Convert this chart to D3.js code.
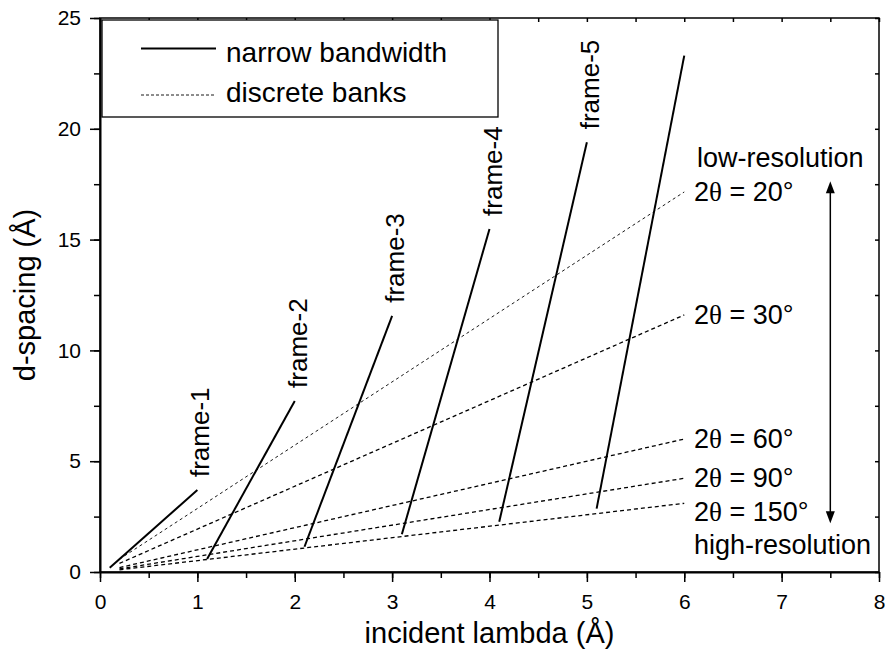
<!DOCTYPE html>
<html>
<head>
<meta charset="utf-8">
<script src="https://cdn.jsdelivr.net/npm/d3@7"></script>
<style>
	body { margin: 0; background: #fff; }
	text { font-family: "Liberation Sans", Arial, sans-serif; fill: #000; }
</style>
</head>
<body>
<div id="chart"></div>
<script>
// narrow bandwidth frames: incident lambda range and d-spacing range
const frameNames = ['frame-1', 'frame-2', 'frame-3', 'frame-4', 'frame-5', ''];
const frameLambda = [[0.1, 1.0], [1.1, 2.0], [2.1, 3.0], [3.1, 4.0], [4.1, 5.0], [5.1, 6.0]];
const frameD = [[0.19, 3.7], [0.59, 7.72], [1.14, 11.56], [1.70, 15.48], [2.27, 19.39], [2.86, 23.3]];

// discrete detector banks (2theta), lambda range and d-spacing range
const bankAngles = [20, 30, 60, 90, 150];
const bankLambda = [0.2, 6.0];
const bankD = [[0.58, 17.15], [0.39, 11.6], [0.2, 6.0], [0.14, 4.23], [0.1, 3.1]];

const xTicks = [0, 1, 2, 3, 4, 5, 6, 7, 8];
const yTicks = [0, 5, 10, 15, 20, 25];

function buildChart(parentID) {

	const W = 885, H = 651;
	const margin = {top: 18, right: 6, bottom: 79, left: 100};

	const svg = d3.select(parentID).append('svg')
		.attr('width', W)
		.attr('height', H);

	//scales
	const x = d3.scaleLinear().domain([0, 8]).range([margin.left, W - margin.right]);
	const y = d3.scaleLinear().domain([0, 25]).range([H - margin.bottom, margin.top]);

	const minorX = d3.range(0, 8.01, 0.5);
	const minorY = d3.range(0, 25.01, 2.5);

	//frame box (top/right thinner)
	svg.append('rect')
		.attr('x', x(0)).attr('y', y(25))
		.attr('width', x(8) - x(0)).attr('height', y(0) - y(25))
		.attr('fill', 'none').attr('stroke', '#000').attr('stroke-width', 1.5);

	//inner ticks on top and right
	svg.append('g').attr('transform', `translate(0,${y(25)})`)
		.call(d3.axisTop(x).tickValues(minorX).tickSize(-4).tickFormat(''))
		.call(g => g.select('.domain').remove());
	svg.append('g').attr('transform', `translate(${x(8)},0)`)
		.call(d3.axisRight(y).tickValues(minorY).tickSize(-4).tickFormat(''))
		.call(g => g.select('.domain').remove());

	//bottom axis: minor then major
	svg.append('g').attr('transform', `translate(0,${y(0)})`)
		.call(d3.axisBottom(x).tickValues(minorX).tickSize(6).tickFormat(''))
		.call(g => g.select('.domain').remove());
	const xAxis = svg.append('g').attr('transform', `translate(0,${y(0)})`)
		.call(d3.axisBottom(x).tickValues(xTicks).tickSize(10).tickPadding(12).tickSizeOuter(0).tickFormat(d3.format('d')));

	//left axis
	svg.append('g').attr('transform', `translate(${x(0)},0)`)
		.call(d3.axisLeft(y).tickValues(minorY).tickSize(6).tickFormat(''))
		.call(g => g.select('.domain').remove());
	const yAxis = svg.append('g').attr('transform', `translate(${x(0)},0)`)
		.call(d3.axisLeft(y).tickValues(yTicks).tickSize(10).tickPadding(9).tickSizeOuter(0).tickFormat(d3.format('d')));

	[xAxis, yAxis].forEach(a => {
		a.selectAll('text').style('font-size', '21px').style('font-family', '"Liberation Sans", Arial, sans-serif');
		a.select('.domain').attr('stroke-width', 2);
	});
	svg.selectAll('.tick line').attr('stroke', '#000').attr('stroke-width', 1.5);

	//axis titles
	svg.append('text')
		.attr('x', x(4)).attr('y', 643)
		.attr('text-anchor', 'middle')
		.style('font-size', '29px')
		.text('incident lambda (Å)');

	svg.append('text')
		.attr('transform', `translate(35,${y(12.5)}) rotate(-90)`)
		.attr('text-anchor', 'middle')
		.style('font-size', '29px')
		.text('d-spacing (Å)');

	const line = d3.line().x(d => x(d[0])).y(d => y(d[1]));

	//discrete banks (dashed)
	const banks = bankAngles.map((a, i) => ({
		angle: a,
		pts: [[bankLambda[0], bankD[i][0]], [bankLambda[1], bankD[i][1]]]
	}));

	svg.selectAll('.bank').data(banks).enter()
		.append('path')
		.attr('class', 'bank')
		.attr('d', d => line(d.pts))
		.attr('fill', 'none')
		.attr('stroke', '#000')
		.attr('stroke-width', d => d.angle === 20 ? 0.9 : 1.3)
		.attr('stroke-dasharray', d => d.angle === 20 ? '3,3' : '4,3');

	//frames (solid)
	const frames = frameNames.map((n, i) => ({
		name: n,
		pts: [[frameLambda[i][0], frameD[i][0]], [frameLambda[i][1], frameD[i][1]]]
	}));

	svg.selectAll('.frame').data(frames).enter()
		.append('path')
		.attr('class', 'frame')
		.attr('d', d => line(d.pts))
		.attr('fill', 'none')
		.attr('stroke', '#000')
		.attr('stroke-width', 2);

	svg.selectAll('.frameLabel').data(frames.filter(d => d.name)).enter()
		.append('text')
		.attr('class', 'frameLabel')
		.attr('transform', d => `translate(${x(d.pts[1][0]) + 12},${y(d.pts[1][1]) - 13}) rotate(-90)`)
		.style('font-size', '26px')
		.text(d => d.name);

	//bank labels, pushed apart so they don't overlap
	let lastY = -Infinity;
	banks.forEach(b => {
		let ly = y(b.pts[1][1]) + 9;
		if (ly - lastY < 34) ly = lastY + 34;
		lastY = ly;
		const t = svg.append('text')
			.attr('x', x(6.1)).attr('y', ly)
			.style('font-size', '27px');
		t.append('tspan').text('2');
		t.append('tspan').style('font-family', '"Liberation Serif", "Times New Roman", serif').text('θ');
		t.append('tspan').text(` = ${b.angle}°`);
	});

	svg.append('text')
		.attr('x', x(6.1) + 3).attr('y', 167)
		.style('font-size', '27px')
		.text('low-resolution');
	svg.append('text')
		.attr('x', x(6.1)).attr('y', 554)
		.style('font-size', '27px')
		.text('high-resolution');

	//double arrow
	const ax = x(7.5), aTop = y(17.63), aBot = y(2.2);
	svg.append('line')
		.attr('x1', ax).attr('x2', ax)
		.attr('y1', aTop + 8).attr('y2', aBot - 8)
		.attr('stroke', '#000').attr('stroke-width', 1.5);
	svg.append('path')
		.attr('d', `M${ax},${aTop} L${ax - 4.5},${aTop + 12} L${ax + 4.5},${aTop + 12} Z`)
		.attr('fill', '#000');
	svg.append('path')
		.attr('d', `M${ax},${aBot} L${ax - 4.5},${aBot - 12} L${ax + 4.5},${aBot - 12} Z`)
		.attr('fill', '#000');

	//legend
	const lg = svg.append('g');
	lg.append('rect')
		.attr('x', 102).attr('y', 20)
		.attr('width', 396).attr('height', 97)
		.attr('fill', '#fff').attr('stroke', '#000').attr('stroke-width', 1.3);
	lg.append('line')
		.attr('x1', 141).attr('x2', 216).attr('y1', 48.5).attr('y2', 48.5)
		.attr('stroke', '#000').attr('stroke-width', 2);
	lg.append('line')
		.attr('x1', 141).attr('x2', 216).attr('y1', 95).attr('y2', 95)
		.attr('stroke', '#000').attr('stroke-width', 0.9).attr('stroke-dasharray', '3,2');
	lg.append('text').attr('x', 226).attr('y', 62).style('font-size', '28px').text('narrow bandwidth');
	lg.append('text').attr('x', 226).attr('y', 102).style('font-size', '28px').text('discrete banks');
}

buildChart('#chart');
</script>
</body>
</html>
